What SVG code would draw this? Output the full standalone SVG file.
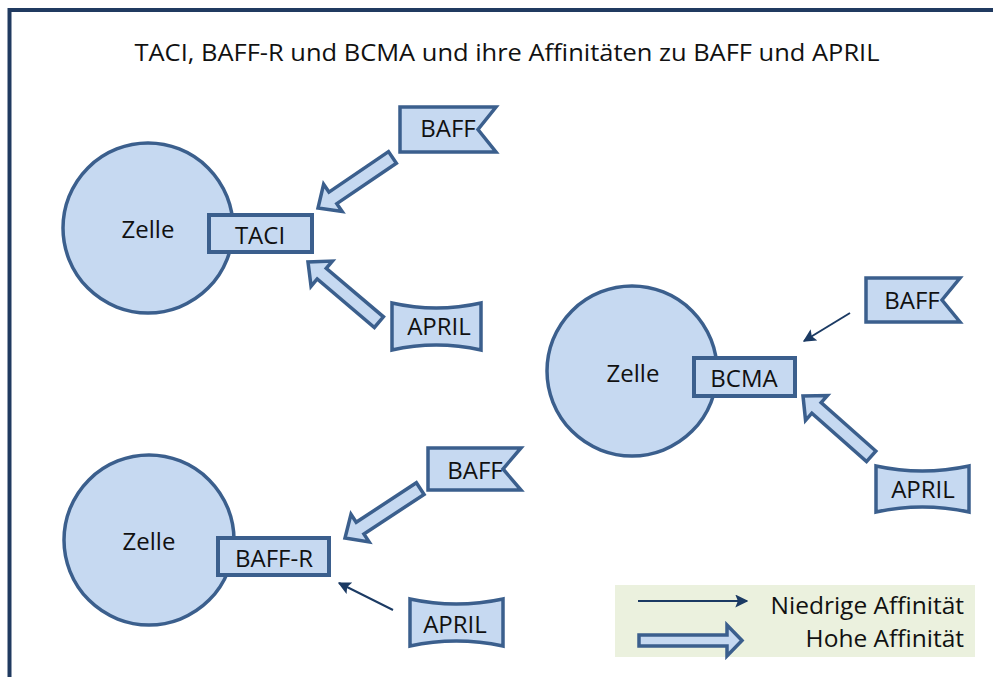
<svg xmlns="http://www.w3.org/2000/svg" width="993" height="677" viewBox="0 0 993 677">
<defs>
<style>
.cell{fill:#c6d9f1;stroke:#3b5f8d;stroke-width:3.5}
.box{fill:#c6d9f1;stroke:#3b5f8d;stroke-width:4}
.ligand{fill:#c6d9f1;stroke:#3b5f8d;stroke-width:3.5;stroke-linejoin:miter}
.thick{fill:#c6d9f1;stroke:#3b5f8d;stroke-width:3.5;stroke-linejoin:miter}
.thin{fill:none;stroke:#1b3a63;stroke-width:2}
.lbl{font-family:"Open Sans","Liberation Sans",sans-serif;font-size:24px;fill:#111;text-anchor:middle}
.leg{font-family:"Open Sans","Liberation Sans",sans-serif;font-size:24.5px;fill:#111;text-anchor:end}
</style>
<marker id="ah" viewBox="0 0 10 10" refX="9" refY="5" markerWidth="6.5" markerHeight="6.5" orient="auto" markerUnits="strokeWidth">
<path d="M0,0 L10,5 L0,10 L2,5 Z" fill="#1b3a63"/>
</marker>
</defs>
<rect x="0" y="0" width="993" height="677" fill="#ffffff"/>
<rect x="9.5" y="10" width="1010" height="700" fill="none" stroke="#203a60" stroke-width="4"/>
<text x="507" y="61" font-family="'Open Sans','Liberation Sans',sans-serif" font-size="23" fill="#111" text-anchor="middle" textLength="745" lengthAdjust="spacingAndGlyphs">TACI, BAFF-R und BCMA und ihre Affinitäten zu BAFF und APRIL</text>

<g id="connectors">
<g transform="translate(318,208) rotate(145.8)"><polygon class="thick" points="0,0 -18,-16.5 -18,-7 -90,-7 -90,7 -18,7 -18,16.5"/></g>
<g transform="translate(308,262) rotate(-139.7)"><polygon class="thick" points="0,0 -18,-16.5 -18,-7 -93,-7 -93,7 -18,7 -18,16.5"/></g>
<g transform="translate(803,396) rotate(-138.5)"><polygon class="thick" points="0,0 -18,-16.5 -18,-7 -91,-7 -91,7 -18,7 -18,16.5"/></g>
<g transform="translate(345,538) rotate(146.7)"><polygon class="thick" points="0,0 -18,-16.5 -18,-7 -90,-7 -90,7 -18,7 -18,16.5"/></g>
<line class="thin" x1="850" y1="313" x2="804" y2="341" marker-end="url(#ah)"/>
<line class="thin" x1="393" y1="610" x2="339" y2="583" marker-end="url(#ah)"/>
</g>

<g id="cell1">
<circle class="cell" cx="148" cy="228" r="85"/>
<text class="lbl" x="148" y="238">Zelle</text>
</g>
<g id="taci">
<rect class="box" x="209" y="215" width="103" height="37"/>
<text class="lbl" x="260" y="244">TACI</text>
</g>
<g id="baff1">
<polygon class="ligand" points="400,107 496,107 478,129.5 496,152 400,152"/>
<text class="lbl" x="448" y="137">BAFF</text>
</g>
<g id="april1">
<path class="ligand" d="M392,303 Q436,313 481,303 L481,350 Q436,340 392,350 Z"/>
<text class="lbl" x="439" y="335">APRIL</text>
</g>

<g id="cell2">
<circle class="cell" cx="632" cy="371" r="85"/>
<text class="lbl" x="633" y="382">Zelle</text>
</g>
<g id="bcma">
<rect class="box" x="694" y="358" width="101" height="38"/>
<text class="lbl" x="744" y="387">BCMA</text>
</g>
<g id="baff2">
<polygon class="ligand" points="866,278 960,278 942,300 960,322 866,322"/>
<text class="lbl" x="912" y="309">BAFF</text>
</g>
<g id="april2">
<path class="ligand" d="M876,466 Q922,476 969,466 L969,512 Q922,502 876,512 Z"/>
<text class="lbl" x="923" y="498">APRIL</text>
</g>

<g id="cell3">
<circle class="cell" cx="149" cy="540" r="85"/>
<text class="lbl" x="149" y="550">Zelle</text>
</g>
<g id="baffr">
<rect class="box" x="218" y="538" width="111" height="37"/>
<text class="lbl" x="274" y="567">BAFF-R</text>
</g>
<g id="baff3">
<polygon class="ligand" points="428,448 521,448 503,469 521,490 428,490"/>
<text class="lbl" x="475" y="479">BAFF</text>
</g>
<g id="april3">
<path class="ligand" d="M410,599 Q456,609 503,599 L503,646 Q456,636 410,646 Z"/>
<text class="lbl" x="455" y="633">APRIL</text>
</g>

<g id="legend">
<rect x="615" y="585" width="360" height="72" fill="#ebf1de"/>
<line class="thin" x1="638" y1="601" x2="747" y2="601" marker-end="url(#ah)"/>
<polygon class="thick" points="742,640.5 727,625 727,635 639,635 639,646 727,646 727,656"/>
<text class="leg" x="964" y="614">Niedrige Affinität</text>
<text class="leg" x="964" y="647">Hohe Affinität</text>
</g>
</svg>
